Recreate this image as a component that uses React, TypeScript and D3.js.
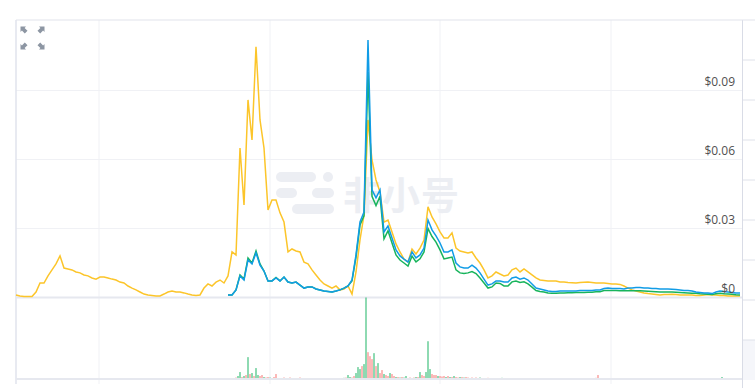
import * as d3 from "d3";

// price series, one point every 2 days (day = 2 * index)
const yellowPrice = [
  0.0011, 0.0007, 0.0004, 0.0004, 0.0004, 0.0024, 0.0063, 0.0063, 0.0094, 0.012,
  0.0146, 0.0181, 0.0128, 0.0124, 0.012, 0.0111, 0.0107, 0.0098, 0.0094, 0.0085,
  0.008, 0.0089, 0.0089, 0.0085, 0.008, 0.0076, 0.0067, 0.0063, 0.005, 0.0041,
  0.0033, 0.0024, 0.0015, 0.0011, 0.0009, 0.0007, 0.0007, 0.0015, 0.0024, 0.0028,
  0.0024, 0.0024, 0.002, 0.0015, 0.0011, 0.0009, 0.0011, 0.0041, 0.0059, 0.005,
  0.0067, 0.0076, 0.0063, 0.0094, 0.0198, 0.0185, 0.065, 0.0402, 0.0859, 0.0685,
  0.109, 0.0772, 0.065, 0.0381, 0.0424, 0.0424, 0.0368, 0.0328, 0.0198, 0.0211,
  0.0202, 0.0198, 0.0154, 0.0146, 0.012, 0.0098, 0.0076, 0.0059, 0.005, 0.0041,
  0.005, 0.0033, 0.0037, 0.005, 0.0015, 0.0111, 0.025, 0.0359, 0.0772, 0.0598,
  0.0511, 0.0459, 0.0328, 0.0337, 0.0285, 0.0233, 0.0198, 0.0167, 0.0154, 0.0211,
  0.0189, 0.0215, 0.025, 0.0394, 0.035, 0.032, 0.0285, 0.0259, 0.0259, 0.0281,
  0.0215, 0.0202, 0.0198, 0.0194, 0.0198, 0.0172, 0.015, 0.012, 0.0085, 0.0094,
  0.0111, 0.0102, 0.0094, 0.0098, 0.012, 0.0128, 0.0111, 0.0124, 0.0111, 0.0098,
  0.0085, 0.0076, 0.0074, 0.0072, 0.0072, 0.0072, 0.0067, 0.0067, 0.0065, 0.0064,
  0.0063, 0.0065, 0.0066, 0.0067, 0.0065, 0.0063, 0.0063, 0.0063, 0.0061, 0.0059,
  0.0059, 0.0057, 0.005, 0.0041, 0.0033, 0.0028, 0.0024, 0.002, 0.0017, 0.0015,
  0.0013, 0.0011, 0.0013, 0.0013, 0.0014, 0.0013, 0.0011, 0.0011, 0.0011, 0.0011,
  0.0009, 0.0009, 0.0011, 0.0013, 0.0011, 0.0011, 0.0009, 0.0009, 0.0007, 0.0007,
  0.0007, 0.0007,
];

// blue and green start later (from index 53)
const pairStart = 53;
const bluePrice = [
  0.0011, 0.0011, 0.0033, 0.0094, 0.0076, 0.0163, 0.0146, 0.0194, 0.0141, 0.0115,
  0.0072, 0.0072, 0.0085, 0.0072, 0.0089, 0.0067, 0.0063, 0.0067, 0.0054, 0.0041,
  0.0046, 0.0046, 0.0037, 0.0033, 0.0028, 0.0026, 0.0024, 0.0028, 0.0033, 0.0041,
  0.005, 0.0076, 0.0185, 0.0328, 0.0372, 0.112, 0.0468, 0.0433, 0.0468, 0.0285,
  0.0311, 0.0259, 0.0207, 0.0181, 0.0167, 0.0154, 0.0198, 0.0172, 0.0185, 0.0215,
  0.0337, 0.0294, 0.0268, 0.0237, 0.0198, 0.0198, 0.0207, 0.015, 0.0133, 0.0128,
  0.0128, 0.0141, 0.0128, 0.0107, 0.008, 0.0054, 0.0059, 0.0072, 0.0072, 0.0067,
  0.0067, 0.0085, 0.0089, 0.008, 0.0085, 0.0076, 0.0059, 0.0041, 0.0037, 0.0033,
  0.0028, 0.0026, 0.0026, 0.0028, 0.0028, 0.0028, 0.0028, 0.0028, 0.003, 0.003,
  0.003, 0.003, 0.0033, 0.0033, 0.0039, 0.0041, 0.0039, 0.0039, 0.0039, 0.0037,
  0.0041, 0.0041, 0.0043, 0.0043, 0.0041, 0.0041, 0.0039, 0.0039, 0.0037, 0.0037,
  0.0037, 0.0036, 0.0035, 0.0033, 0.003, 0.003, 0.0028, 0.0024, 0.0022, 0.002,
  0.002, 0.0017, 0.0024, 0.0028, 0.0026, 0.0024, 0.0022, 0.002, 0.002,
];
const greenPrice = [
  0.0011, 0.0011, 0.0033, 0.0098, 0.008, 0.0172, 0.015, 0.0202, 0.0146, 0.0115,
  0.0072, 0.0072, 0.0087, 0.0072, 0.0089, 0.0067, 0.0063, 0.0067, 0.0054, 0.0041,
  0.0046, 0.0046, 0.0037, 0.0033, 0.0028, 0.0026, 0.0024, 0.0028, 0.0033, 0.0041,
  0.005, 0.0072, 0.0176, 0.0315, 0.0355, 0.098, 0.044, 0.04, 0.044, 0.0255,
  0.029, 0.0237, 0.0185, 0.0163, 0.015, 0.0137, 0.018, 0.0155, 0.0168, 0.0198,
  0.03, 0.0265, 0.0241, 0.0207, 0.0168, 0.0172, 0.0176, 0.012, 0.0107, 0.0104,
  0.0107, 0.0113, 0.0104, 0.0085, 0.0063, 0.0041, 0.0046, 0.0063, 0.0061, 0.005,
  0.005, 0.0068, 0.0072, 0.0065, 0.0068, 0.0059, 0.0045, 0.003, 0.0026, 0.0024,
  0.002, 0.0018, 0.0018, 0.002, 0.002, 0.0021, 0.0021, 0.0022, 0.0022, 0.0022,
  0.0023, 0.0023, 0.0025, 0.0025, 0.003, 0.003, 0.003, 0.003, 0.0029, 0.0029,
  0.0029, 0.0029, 0.0029, 0.0029, 0.0028, 0.0027, 0.0026, 0.0025, 0.0024, 0.0024,
  0.0024, 0.0024, 0.0023, 0.0022, 0.0021, 0.002, 0.0019, 0.0018, 0.0016, 0.0015,
  0.0014, 0.0013, 0.0016, 0.0018, 0.0016, 0.0015, 0.0014, 0.0012, 0.0011,
];

// daily volume from day 106, positive = up day (green), negative = down day (red)
const volStartDay = 106;
const volume = [
  0.3, 0.3, 0.5, 1, -1.5, 3, 7, -2, 3, -4,
  22, -5, 6, -3, 11, 4, -3, -4, 2, -1.5,
  -2, 1.5, -1, -2, -5, 1, 0.8, 1, -1.5, 1,
  -0.8, -1.5, 1, 0.8, -0.6, -1, -1.5, 0.8, 0.6, 0.5,
  -0.8, 0.5, 0.4, -0.5, 0.6, 0.5, -0.4, 0.5, 0.4, 0.5,
  0.4, 0.6, -0.5, 0.6, 0.7, 0.8, 1, -1, 1.2, -1.5,
  4, 2, -1.5, -3, 6, 12, 10, -13, 15, 82,
  -27, -23, -20, 26, -13, 16, -6, -9, 5, -4,
  -3, 6, -5, -3, 2, -2, 1.5, -2, 1.5, 3,
  -1, -1.5, 1, -1.5, 2, -2, 7, -4, -3, 7,
  38, 10, -5, -4, -4, 3, -3, -2.5, -3, 2,
  -3, 2, -2, 3, -2, -1.5, 2, -2, 1.5, -2,
  -1.5, 1, -1.5, 1, -1.5, -1, 1.5, -1, 1, -0.8,
  -1.2, 0.8, 1, -0.8, -1, 0.8, -0.6, 1.2, -0.8, 0.6,
  -1, 0.8, -0.6, 1, 0.8, -0.6, -0.8, 0.6, 0.5, -0.7,
  -0.6, 0.5, -0.8, -0.6, 0.5, -0.6, -0.6, 0.5, -0.7, 0.6,
  -0.5, -0.6, 0.5, -0.7, -0.6, 0.4, -0.5, -0.6, 0.5, -0.5,
  -0.6, 0.5, -0.5, -0.6, 0.4, -0.5, -0.6, 0.5, -0.6, -0.5,
  0.5, -0.6, -0.7, -1, -1.2, -4, -1, -0.6, 0.5, -0.6,
  -0.5, 0.5, -0.6, -0.5, 0.4, -0.6, -0.5, 0.5, -0.6, -0.5,
  0.5, -0.6, -0.5, 0.4, -0.6, -0.5, 0.5, -0.5, -0.6, 0.4,
  -0.6, -0.5, 0.5, -0.6, -0.5, 0.4, -0.6, -0.7, 0.5, -0.6,
  -0.5, 0.5, -0.6, -0.6, 0.4, -0.5, -0.6, 0.5, -0.7, -0.6,
  0.5, -0.6, -0.5, 0.6, -0.7, -0.6, 0.5, -0.6, -0.5, 0.6,
  -0.6, -0.8, 0.8, -0.6, 0.6, -0.7, 1, 2, -0.8, 0.6,
  -0.6, 0.5, -0.6, 0.5, -0.6, 0.5, -0.5,
];

const priceTicks = [0, 0.03, 0.06, 0.09];
const dayGrid = [41.5, 127, 212, 297.5];

const W = 755;
const H = 388;
const left = 16;
const right = 742;
const top = 20;
const priceBottom = 297.5;
const volBottom = 379;

type Pt = { day: number; v: number };

export default function App() {
  const x = d3.scaleLinear().domain([0, 362]).range([left, 740]);
  const y = d3.scaleLinear().domain([0, 0.09]).range([priceBottom, 90.5]);
  const maxVol = d3.max(volume, (v) => Math.abs(v)) ?? 1;
  const yVol = d3.scaleLinear().domain([0, maxVol]).range([volBottom, priceBottom]);

  const yellowPts: Pt[] = yellowPrice.map((v, i) => ({ day: i * 2, v }));
  const bluePts: Pt[] = bluePrice.map((v, i) => ({ day: (i + pairStart) * 2, v }));
  const greenPts: Pt[] = greenPrice.map((v, i) => ({ day: (i + pairStart) * 2, v }));

  const line = d3
    .line<Pt>()
    .x((d) => x(d.day))
    .y((d) => y(d.v));

  const arrow = "M-3.5,-3.5 H2 L0.6,-2.1 L3.5,0.8 L0.8,3.5 L-2.1,0.6 L-3.5,2 Z";
  const icons = [
    { cx: 24, cy: 30, r: 0 },
    { cx: 41, cy: 30, r: 90 },
    { cx: 41, cy: 46, r: 180 },
    { cx: 24, cy: 46, r: 270 },
  ];

  return (
    <svg
      width={W}
      height={H}
      style={{ position: "absolute", left: 0, top: 0, background: "#fff" }}
    >
      {/* side strip on the right */}
      <rect x={right} y={340} width={W - right} height={40} fill="#f5f6fa" />
      {[60, 100, 140, 180, 220, 260, 300, 340].map((yy) => (
        <line key={yy} x1={right} x2={W} y1={yy} y2={yy} stroke="#dfe2ea" />
      ))}
      <line x1={right + 0.5} x2={right + 0.5} y1={top} y2={H} stroke="#d9dce6" />

      {/* grid */}
      {priceTicks.slice(1).map((t) => (
        <line key={t} x1={left} x2={right} y1={y(t)} y2={y(t)} stroke="#f0f1f5" />
      ))}
      {dayGrid.map((d) => (
        <line key={d} x1={x(d)} x2={x(d)} y1={top} y2={volBottom + 5} stroke="#f0f1f5" />
      ))}

      {/* frame */}
      <line x1={left} x2={W} y1={top} y2={top} stroke="#e1e3ec" strokeWidth={1.2} />
      <line x1={left} x2={left} y1={top} y2={volBottom + 5} stroke="#e1e3ec" strokeWidth={1.5} />
      <line x1={left} x2={right} y1={priceBottom} y2={priceBottom} stroke="#e6e8ef" strokeWidth={2} />
      <line x1={left} x2={right} y1={volBottom} y2={volBottom} stroke="#e6e8ef" strokeWidth={2} />

      {/* watermark */}
      <g fill="#eceef3">
        <rect x={276} y={172} width={40} height={10} rx={5} />
        <circle cx={328} cy={177} r={5} />
        <rect x={276} y={188} width={21} height={10} rx={5} />
        <rect x={312} y={188} width={22} height={10} rx={5} />
        <rect x={292} y={204} width={42} height={10} rx={5} />
        <text
          x={343}
          y={209}
          fontSize={38}
          fontWeight={700}
          fontFamily="'Noto Sans CJK SC', sans-serif"
          textLength={116}
        >
          非小号
        </text>
      </g>

      {/* icons */}
      {icons.map((ic, i) => (
        <path
          key={i}
          d={arrow}
          fill="#8d96a3"
          transform={`translate(${ic.cx},${ic.cy}) rotate(${ic.r})`}
        />
      ))}

      {/* volume */}
      {volume.map((v, i) => (
        <rect
          key={i}
          x={x(volStartDay + i) - 0.8}
          width={1.6}
          y={yVol(Math.abs(v))}
          height={volBottom - 1 - yVol(Math.abs(v))}
          fill={v >= 0 ? "#27b86c" : "#f87a78"}
          fillOpacity={0.65}
        />
      ))}

      {/* price lines */}
      <path d={line(yellowPts) ?? ""} fill="none" stroke="#fcc52a" strokeWidth={1.5} />
      <path d={line(greenPts) ?? ""} fill="none" stroke="#18b45c" strokeWidth={1.5} />
      <path d={line(bluePts) ?? ""} fill="none" stroke="#119ce6" strokeWidth={1.5} />

      {/* price labels */}
      {priceTicks.map((t) => (
        <text
          key={t}
          x={735}
          y={y(t) - 4.5}
          textAnchor="end"
          fontSize={12}
          fontFamily="'Open Sans', sans-serif"
          fill="#505050"
        >
          {t === 0 ? "$0" : `$${t.toFixed(2)}`}
        </text>
      ))}
    </svg>
  );
}
